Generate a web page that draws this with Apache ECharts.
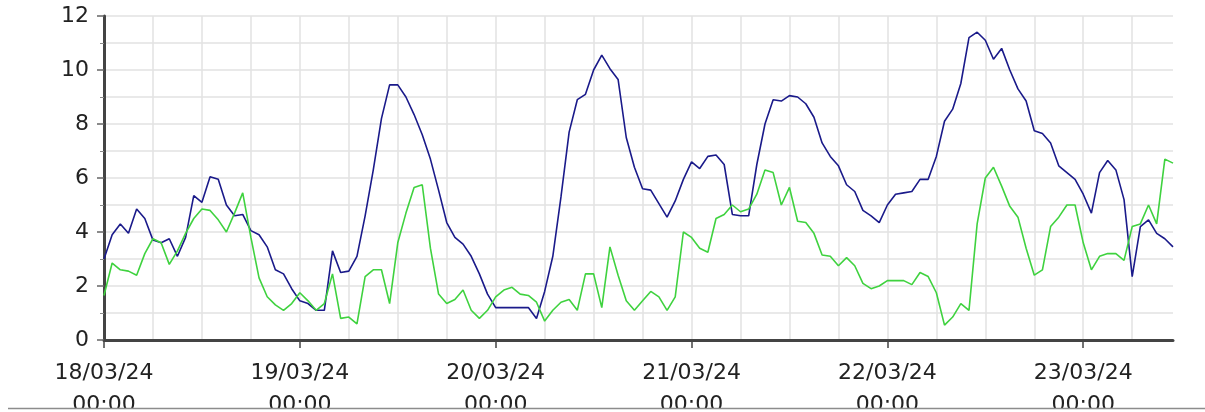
<!DOCTYPE html>
<html>
<head>
<meta charset="utf-8">
<script src="https://cdn.jsdelivr.net/npm/echarts@6/dist/echarts.min.js"></script>
<style>
html,body{margin:0;padding:0;background:#fff;}
#chart{width:1205px;height:412px;}
</style>
</head>
<body>
<div id="chart"></div>
<script>
// Hourly readings starting 18/03/24 00:00 (x = hours since start)
const dayLabels = ['18/03/24','19/03/24','20/03/24','21/03/24','22/03/24','23/03/24'];
const timeLabel = '00:00';
const yTicks = [0, 2, 4, 6, 8, 10, 12];

const blueValues = [
  3.0,3.9,4.3,3.95,4.85,4.5,3.7,3.6,3.75,3.1,3.8,5.35,5.1,6.05,5.95,5.0,4.6,4.65,4.05,3.9,3.45,2.6,2.45,1.9,
  1.45,1.35,1.1,1.1,3.3,2.5,2.55,3.1,4.6,6.3,8.2,9.45,9.45,9.0,8.35,7.6,6.7,5.55,4.35,3.8,3.55,3.1,2.45,1.7,
  1.2,1.2,1.2,1.2,1.2,0.8,1.8,3.1,5.3,7.7,8.9,9.1,10.0,10.55,10.05,9.65,7.5,6.4,5.6,5.55,5.05,4.55,5.15,5.95,
  6.6,6.35,6.8,6.85,6.5,4.65,4.6,4.6,6.5,8.0,8.9,8.85,9.05,9.0,8.75,8.25,7.3,6.8,6.45,5.75,5.5,4.8,4.6,4.35,
  5.0,5.4,5.45,5.5,5.95,5.95,6.8,8.1,8.55,9.5,11.2,11.4,11.1,10.4,10.8,10.0,9.3,8.85,7.75,7.65,7.3,6.45,6.2,5.95,
  5.4,4.7,6.2,6.65,6.3,5.2,2.35,4.2,4.45,3.95,3.75,3.45
];
const greenValues = [
  1.65,2.85,2.6,2.55,2.4,3.2,3.75,3.6,2.8,3.3,3.95,4.5,4.85,4.8,4.45,4.0,4.7,5.45,3.8,2.3,1.6,1.3,1.1,1.35,
  1.75,1.45,1.1,1.35,2.45,0.8,0.85,0.6,2.35,2.6,2.6,1.35,3.6,4.7,5.65,5.75,3.4,1.7,1.35,1.5,1.85,1.1,0.8,1.1,
  1.6,1.85,1.95,1.7,1.65,1.4,0.7,1.1,1.4,1.5,1.1,2.45,2.45,1.2,3.45,2.4,1.45,1.1,1.45,1.8,1.6,1.1,1.6,4.0,
  3.8,3.4,3.25,4.5,4.65,5.0,4.75,4.85,5.4,6.3,6.2,5.0,5.65,4.4,4.35,3.95,3.15,3.1,2.75,3.05,2.75,2.1,1.9,2.0,
  2.2,2.2,2.2,2.05,2.5,2.35,1.75,0.55,0.85,1.35,1.1,4.3,6.0,6.4,5.7,4.95,4.55,3.4,2.4,2.6,4.2,4.55,5.0,5.0,
  3.6,2.6,3.1,3.2,3.2,2.95,4.2,4.3,5.0,4.3,6.7,6.55
];

const lastHour = blueValues.length - 1;
const dayTicks = dayLabels.map((d, i) => i * 24);
const gridTicks = [];
for (let h = 0; h <= lastHour; h += 6) gridTicks.push(h);

const bluePts = blueValues.map((v, i) => [i, v]);
const greenPts = greenValues.map((v, i) => [i, v]);

const chart = echarts.init(document.getElementById('chart'), null, {renderer: 'canvas'});
const textStyle = {fontFamily: 'DejaVu Sans', fontSize: 22, color: '#222'};
chart.setOption({
  animation: false,
  backgroundColor: '#fff',
  grid: {left: 104, right: 32, top: 16, bottom: 72, containLabel: false, outerBoundsMode: 'none'},
  xAxis: [{
    type: 'value',
    min: 0,
    max: lastHour,
    axisLine: {show: true, onZero: false, lineStyle: {color: '#444', width: 3}},
    axisTick: {show: false, customValues: gridTicks},
    splitLine: {show: true, lineStyle: {color: '#e2e2e2', width: 1.5}},
    axisLabel: {
      show: true,
      customValues: dayTicks,
      margin: 17,
      ...textStyle,
      lineHeight: 32,
      formatter: v => dayLabels[Math.round(v / 24)] + '\n' + timeLabel
    }
  }, {
    type: 'value',
    min: 0,
    max: lastHour,
    position: 'bottom',
    axisLine: {show: false},
    axisTick: {show: true, customValues: dayTicks, length: 8, lineStyle: {color: '#444', width: 1.5}},
    splitLine: {show: false},
    axisLabel: {show: false}
  }],
  yAxis: {
    type: 'value',
    min: yTicks[0],
    max: yTicks[yTicks.length - 1],
    interval: 2,
    axisLine: {show: true, lineStyle: {color: '#444', width: 3}},
    axisTick: {show: true, length: 7, lineStyle: {color: '#666', width: 1.5}},
    minorTick: {show: true, splitNumber: 2, length: 4, lineStyle: {color: '#888', width: 1}},
    splitLine: {show: true, lineStyle: {color: '#e2e2e2', width: 1.5}},
    minorSplitLine: {show: true, lineStyle: {color: '#e2e2e2', width: 1.5}},
    axisLabel: {margin: 15, ...textStyle}
  },
  series: [{
    type: 'line',
    xAxisIndex: 0,
    data: bluePts,
    showSymbol: false,
    symbol: 'none',
    lineStyle: {color: '#1a1a8a', width: 1.6},
    z: 3
  }, {
    type: 'line',
    xAxisIndex: 0,
    data: greenPts,
    showSymbol: false,
    symbol: 'none',
    lineStyle: {color: '#3fd23f', width: 1.6},
    z: 4
  }],
  graphic: [{
    type: 'rect',
    shape: {x: 0, y: 409, width: 1205, height: 3},
    style: {fill: '#fff'},
    z: 100
  }, {
    type: 'line',
    shape: {x1: 8, y1: 408.5, x2: 1205, y2: 408.5},
    style: {stroke: '#8c8c8c', lineWidth: 1.5},
    z: 101
  }]
});
</script>
</body>
</html>
